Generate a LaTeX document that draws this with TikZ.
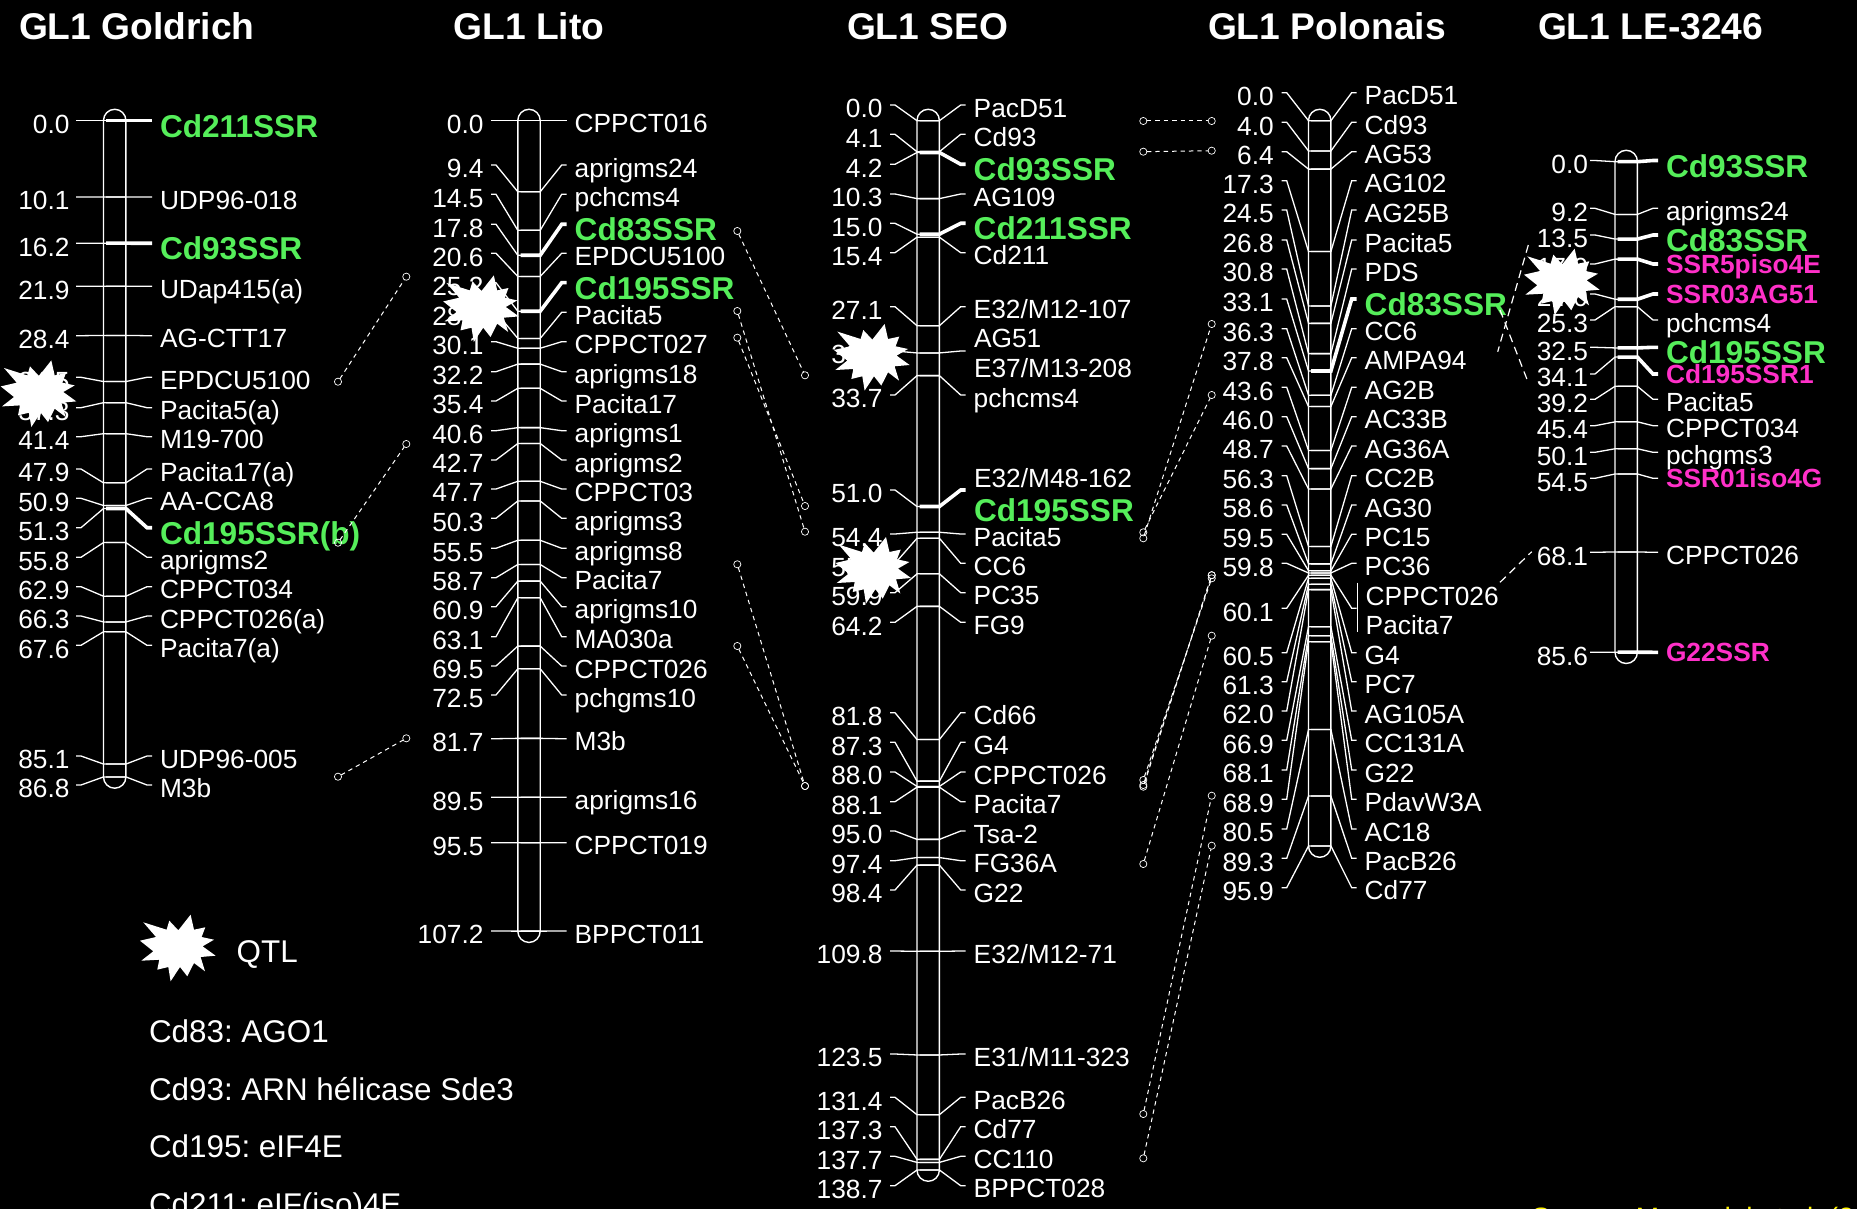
\documentclass[tikz,border=0pt]{standalone}
\usepackage{fontspec}
\setmainfont{Liberation Sans}
\usetikzlibrary{calc}
\definecolor{genegreen}{HTML}{55EE5A}
\definecolor{isopink}{HTML}{FF30C8}
\frenchspacing

\newcommand{\chromap}[9]{
  \draw[chrom] (#2-11.2,#5-11.4) rectangle (#2+11.2,#5+#6*#7+11.3);
  \foreach \dist/\stub/\txt/\sty [count=\i] in {#9} {
    \pgfmathsetmacro\by{#5+#6*\dist}
    \coordinate (#1-\i-sl) at (#2+#3,\stub);
    \coordinate (#1-\i-sr) at (#2+#4,\stub);
    \coordinate (#1-\i-bl) at (#2-11.2,\by);
    \coordinate (#1-\i-bt) at (#2-8.5,\by);
    \coordinate (#1-\i-br) at (#2+11.2,\by);
    \node[dist] (#1-\i-d) at (#2+#3-#8,\stub) {\dist};
    \ifx\txt\empty\else
      \node[\sty] (#1-\i-m) at (#2+#4+8,\stub) {\txt};
    \fi
    \draw[tie] (#1-\i-sl) -- ++(5,0) -- (#1-\i-bl) -- (#1-\i-br);
    \draw[tie,\sty-tie] (#1-\i-bt) -- (#1-\i-br) -- ($(#1-\i-sr)+(-5,0)$) -- (#1-\i-sr);
  }
}

\tikzset{
  qtlstar/.pic={
    \fill[white] (13.3,-33.3) -- (16.7,-18.3) -- (28,-20.7) -- (24.3,-11) -- (36.7,-8.3) -- (25.3,-1.7)
      -- (38.3,7.7) -- (23.3,9) -- (27.7,23.3) -- (16.7,15) -- (10,28.3) -- (2.7,19) -- (-6.7,33.3)
      -- (-9,19) -- (-20,21.7) -- (-18,11.7) -- (-36,12.7) -- (-24,3.3) -- (-37.3,-7.3) -- (-21.3,-11)
      -- (-34,-25.7) -- (-10.7,-18.3) -- (-8,-27.3) -- (1,-17.7) -- cycle;
  }
}

\begin{document}
\begin{tikzpicture}[x=0.5pt,y=-0.5pt,
    every node/.style={text=white,inner sep=0pt,outer sep=0pt},
    chrom/.style={draw=white,line width=0.7pt,rounded corners=5.6pt},
    tie/.style={draw=white,line width=0.65pt},
    dist/.style={anchor=base east,yshift=-6.4pt,font=\fontsize{13.15}{15}\selectfont},
    lab/.style={anchor=base west,yshift=-6.1pt,font=\fontsize{13.15}{15}\selectfont},
    gene/.style={anchor=base west,yshift=-8.3pt,text=genegreen,font=\bfseries\fontsize{15.8}{18}\selectfont},
    iso/.style={anchor=base west,yshift=-4.8pt,text=isopink,font=\bfseries\fontsize{13.15}{15}\selectfont},
    isothin/.style={iso},
    lab-tie/.style={},
    isothin-tie/.style={},
    gene-tie/.style={line width=1.8pt},
    iso-tie/.style={line width=1.8pt},
    title/.style={anchor=base west,font=\bfseries\fontsize{18.6}{22}\selectfont},
    legend/.style={anchor=base west,font=\fontsize{15.7}{18}\selectfont},
    endmark/.style={circle,draw=white,line width=0.35pt,minimum size=3.6pt},
    link/.style={draw=white,line width=0.5pt,dash pattern=on 2.2pt off 2pt},
    longlink/.style={draw=white,line width=0.6pt,dash pattern=on 4pt off 2.6pt}
]
\useasboundingbox (0,0) rectangle (1857,1209);
\fill[black] (0,0) rectangle (1857,1209);
\clip (0,0) rectangle (1857,1209);

\node[title] (t1) at (19,40) {GL1 Goldrich};
\node[title] (t2) at (453.5,40) {GL1 Lito};
\node[title] (t3) at (847,40) {GL1 SEO};
\node[title] (t4) at (1208,40) {GL1 Polonais};
\node[title] (t5) at (1538,40) {GL1 LE-3246};

\chromap{gold}{114.7}{-38.7}{37.3}{120.7}{7.56}{86.8}{6.5}{
  0.0/120.7/Cd211SSR/gene, 10.1/197/UDP96-018/lab, 16.2/243.3/Cd93SSR/gene, 21.9/286.3/UDap415(a)/lab,
  28.4/335.7/AG-CTT17/lab, 34.5/377.3/EPDCU5100/lab, 37.3/407.7/Pacita5(a)/lab, 41.4/436.7/M19-700/lab,
  47.9/469/Pacita17(a)/lab, 50.9/498.3/AA-CCA8/lab, 51.3/527.7/Cd195SSR(b)/gene, 55.8/557.3/aprigms2/lab,
  62.9/586.7/CPPCT034/lab, 66.3/616/CPPCT026(a)/lab, 67.6/645.3/Pacita7(a)/lab, 85.1/756/UDP96-005/lab,
  86.8/785/M3b/lab}

\chromap{lito}{529}{-38}{37.7}{120.7}{7.56}{107.2}{7.5}{
  0.0/120.7/CPPCT016/lab, 9.4/165/aprigms24/lab, 14.5/194.3/pchcms4/lab, 17.8/224.3/Cd83SSR/gene,
  20.6/253.3/EPDCU5100/lab, 25.2/282.7/Cd195SSR/gene, 28.8/312.3/Pacita5/lab, 30.1/341.7/CPPCT027/lab,
  32.2/371.7/aprigms18/lab, 35.4/401/Pacita17/lab, 40.6/430.7/aprigms1/lab, 42.7/460/aprigms2/lab,
  47.7/489/CPPCT03/lab, 50.3/518.3/aprigms3/lab, 55.5/548.3/aprigms8/lab, 58.7/577.7/Pacita7/lab,
  60.9/606.7/aprigms10/lab, 63.1/636.7/MA030a/lab, 69.5/666/CPPCT026/lab, 72.5/695/pchgms10/lab,
  81.7/738.7/M3b/lab, 89.5/797.3/aprigms16/lab, 95.5/842.7/CPPCT019/lab, 107.2/931/BPPCT011/lab}

\chromap{seo}{928.2}{-38.2}{37.5}{120.7}{7.565}{138.7}{7.5}{
  0.0/105/PacD51/lab, 4.1/134.3/Cd93/lab, 4.2/164.3/Cd93SSR/gene, 10.3/194/AG109/lab,
  15.0/223.3/Cd211SSR/gene, 15.4/252.7/Cd211/lab, 27.1/306.7/{E32/M12-107}/lab, 30.7/351//lab,
  33.7/395/pchcms4/lab, 51.0/490//gene, 54.4/534/Pacita5/lab, 55.2/563.3/CC6/lab,
  59.9/592.7/PC35/lab, 64.2/622.3/FG9/lab, 81.8/712.7/Cd66/lab, 87.3/742.3/G4/lab,
  88.0/772/CPPCT026/lab, 88.1/801.7/Pacita7/lab, 95.0/831/Tsa-2/lab, 97.4/860.7/FG36A/lab,
  98.4/890/G22/lab, 109.8/951/{E32/M12-71}/lab, 123.5/1054/{E31/M11-323}/lab, 131.4/1097.3/PacB26/lab,
  137.3/1126.7/Cd77/lab, 137.7/1156.3/CC110/lab, 138.7/1185.7/BPPCT028/lab}
\node[lab] (ag51) at (974,335) {AG51};
\node[lab] (e37) at (974,365) {E37/M13-208};
\node[lab] (e32) at (974,475) {E32/M48-162};
\node[gene] (seo195) at (974,504.7) {Cd195SSR};

\chromap{polo}{1319.7}{-38}{37}{120.7}{7.563}{95.9}{8}{
  0.0/92.7/PacD51/lab, 4.0/122.3/Cd93/lab, 6.4/151.7/AG53/lab, 17.3/180.7/AG102/lab,
  24.5/210/AG25B/lab, 26.8/240/Pacita5/lab, 30.8/269/PDS/lab, 33.1/299/Cd83SSR/gene,
  36.3/328.7/CC6/lab, 37.8/357.7/AMPA94/lab, 43.6/387.3/AG2B/lab, 46.0/416.7/AC33B/lab,
  48.7/446/AG36A/lab, 56.3/475.7/CC2B/lab, 58.6/505/AG30/lab, 59.5/534.3/PC15/lab,
  59.8/563.3/PC36/lab, 60.1/608.3//lab, 60.5/652.7/G4/lab, 61.3/681.7/PC7/lab,
  62.0/711/AG105A/lab, 66.9/740.3/CC131A/lab, 68.1/770/G22/lab, 68.9/799.3/PdavW3A/lab,
  80.5/829/AC18/lab, 89.3/858.3/PacB26/lab, 95.9/887.7/Cd77/lab}
\node[lab] (cpp) at (1365.7,593) {CPPCT026};
\node[lab] (pac7) at (1365.7,622) {Pacita7};
\coordinate (brt) at (1357.7,582.7);
\coordinate (brb) at (1357.7,632.3);
\draw[tie] (brt) -- (brb);

\chromap{le}{1626.2}{-36.2}{31.8}{161.7}{5.73}{85.6}{2}{
  0.0/160.5/Cd93SSR/gene, 9.2/208.3/aprigms24/lab, 13.5/235/Cd83SSR/gene, 17.0/264/SSR5piso4E/iso,
  24.0/294/SSR03AG51/iso, 25.3/320/pchcms4/lab, 32.5/347.3/Cd195SSR/gene, 34.1/374/Cd195SSR1/iso,
  39.2/399.3/Pacita5/lab, 45.4/425.7/CPPCT034/lab, 50.1/452.3/pchgms3/lab, 54.5/478.3/SSR01iso4G/isothin,
  68.1/552.3/CPPCT026/lab, 85.6/652.3/G22SSR/iso}

\foreach \n/\xa/\ya/\xb/\yb in {
  a/338/381.7/406.3/276.7, b/338/542.7/406.3/444, c/338/776.7/406.3/738.3,
  d/737.3/231/805/375.3, e/737.3/311/805/531.7, f/737.3/337.7/805/506,
  g/737.3/564.3/805/786, h/737.3/646/805/786,
  i/1143.3/121/1211.7/121, j/1143.3/151.7/1211.7/150.7,
  k/1143.3/538.3/1211.7/324, l/1143.3/532.3/1211.7/395,
  m/1143.3/780/1211.7/578.3, o/1143.3/785/1211.7/575.2, p/1143.3/786.7/1211.7/575.2,
  q/1143.3/864/1211.7/635.7, r/1143.3/1114/1211.7/795.7, s/1143.3/1158.3/1211.7/845.7} {
  \node[endmark] (\n1) at (\xa,\ya) {};
  \node[endmark] (\n2) at (\xb,\yb) {};
  \draw[link] (\n1) -- (\n2);
}

\coordinate (ua) at (1528.3,245);
\coordinate (ub) at (1497.7,351.7);
\coordinate (va) at (1500,310);
\coordinate (vb) at (1528.3,382.7);
\coordinate (wa) at (1500,582.3);
\coordinate (wb) at (1531.7,551.7);
\draw[longlink] (ua) -- (ub);
\draw[longlink] (va) -- (vb);
\draw[longlink] (wa) -- (wb);

\pic at (38,393.7) {qtlstar};
\pic at (480.5,308.7) {qtlstar};
\pic at (871.3,357.3) {qtlstar};
\pic at (872.7,570.3) {qtlstar};
\pic at (1561.3,282) {qtlstar};
\pic at (177.3,948) {qtlstar};

\node[legend] (qtl) at (236.7,962.7) {QTL};
\node[legend] (cd83) at (149,1042.3) {Cd83: AGO1};
\node[legend] (cd93) at (149,1100) {Cd93: ARN hélicase Sde3};
\node[legend] (cd195) at (149,1157.3) {Cd195: eIF4E};
\node[legend] (cd211) at (149,1215) {Cd211: eIF(iso)4E};
\node[anchor=base west,text=yellow,font=\fontsize{14}{16}\selectfont] (src) at (1531.7,1227) {Source: Marandel et al. (2009)};
\end{tikzpicture}
\end{document}
